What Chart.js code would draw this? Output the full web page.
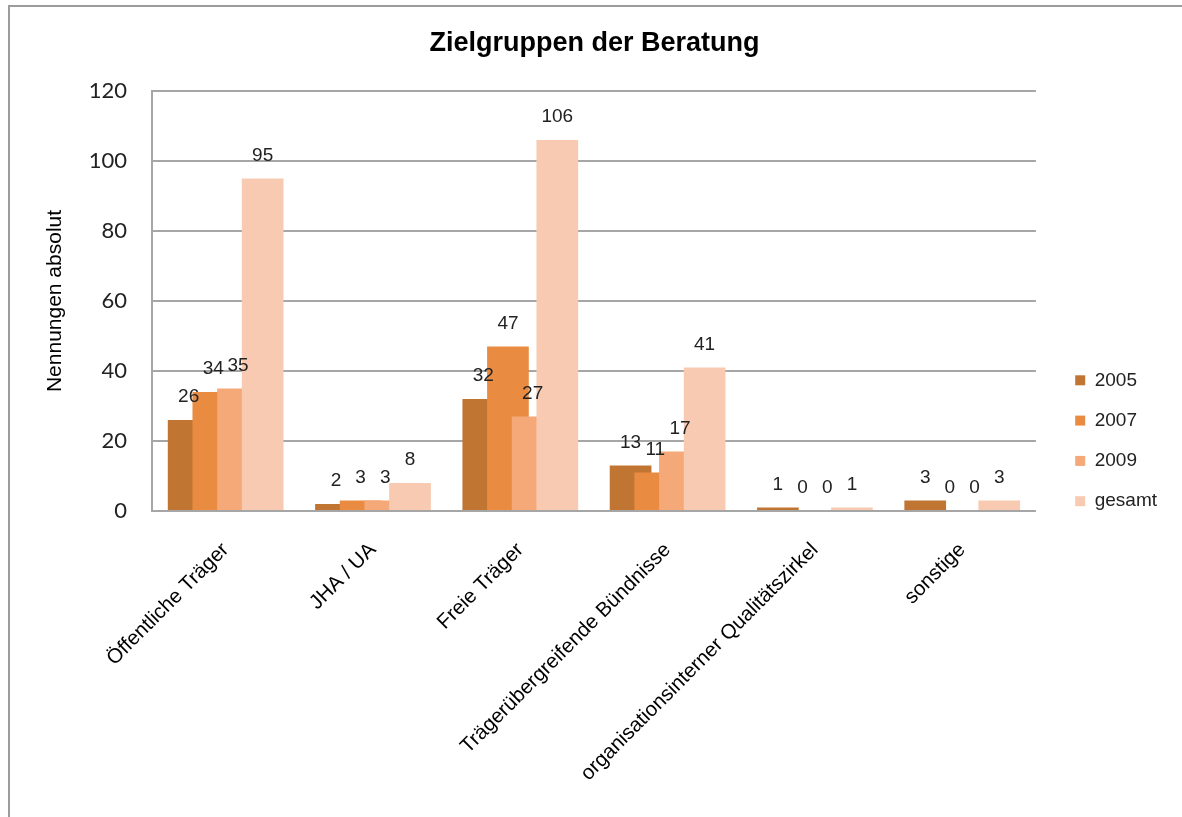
<!DOCTYPE html>
<html><head><meta charset="utf-8">
<script src="https://cdn.jsdelivr.net/npm/chart.js@4"></script>
<style>
html,body{margin:0;padding:0;background:#fff;}
#wrap{position:relative;width:1182px;height:817px;overflow:hidden;}
#frame{position:absolute;left:8px;top:5px;width:1300px;height:1000px;border-top:2px solid #9c9c9c;border-left:2px solid #9c9c9c;pointer-events:none;}
canvas{position:absolute;left:0;top:0;}
</style></head><body>
<div id="wrap"><canvas id="c" width="1182" height="817"></canvas><div id="frame"></div></div>
<script>
const categories = ['Öffentliche Träger','JHA / UA','Freie Träger','Trägerübergreifende Bündnisse','organisationsinterner Qualitätszirkel','sonstige'];
const seriesNames = ['2005','2007','2009','gesamt'];
const values2005 = [26,2,32,13,1,3];
const values2007 = [34,3,47,11,0,0];
const values2009 = [35,3,27,17,0,0];
const valuesGesamt = [95,8,106,41,1,3];
const yTicks = [0,20,40,60,80,100,120];
const seriesColors = ['#C07533','#E98C41','#F5A878','#F8CAB2'];

const seriesValues = [values2005, values2007, values2009, valuesGesamt];

const drawOrderAndLabels = {
  id:'drawOrderAndLabels',
  afterLayout(chart){
    const l = chart.legend;
    l.left += 18; l.right += 18;
    l.top = chart.chartArea.top;
    l.bottom = 532;
  },
  beforeDatasetsDraw(chart){
    const ctx = chart.ctx;
    const metas = chart.getSortedVisibleDatasetMetas().slice().sort((a,b)=>a.index-b.index);
    metas.forEach(m=>m.controller.draw());
    ctx.save();
    ctx.font = '19px "Liberation Sans", Arial, sans-serif';
    ctx.fillStyle = '#222';
    ctx.textAlign = 'center';
    ctx.textBaseline = 'middle';
    metas.forEach(m=>{
      m.data.forEach((el,i)=>{
        ctx.fillText(String(chart.data.datasets[m.index].data[i]), el.x, el.y - 23);
      });
    });
    ctx.restore();
    return false;
  }
};

new Chart(document.getElementById('c'), {
  type:'bar',
  data:{
    labels: categories,
    datasets: seriesNames.map((n,k)=>({
      label:n, data:seriesValues[k], backgroundColor:seriesColors[k], borderWidth:0,
      categoryPercentage:0.67, barPercentage:1.69
    }))
  },
  options:{
    responsive:false, animation:false, devicePixelRatio:1,
    layout:{padding:{left:40,right:33,top:0,bottom:0}},
    plugins:{
      title:{display:true,text:'Zielgruppen der Beratung',color:'#000',
        font:{family:'"Liberation Sans", Arial, sans-serif',size:27,weight:'bold'},
        padding:{top:27,bottom:31.6}},
      legend:{position:'right',align:'end',
        labels:{boxWidth:10,boxHeight:10,padding:21.3,color:'#222',
          font:{family:'"Liberation Sans", Arial, sans-serif',size:19}}},
      tooltip:{enabled:false}
    },
    scales:{
      x:{
        grid:{display:false}, border:{display:false},
        ticks:{minRotation:45,maxRotation:45,autoSkip:false,padding:19,color:'#000',
          font:{family:'"Liberation Sans", Arial, sans-serif',size:20.5}},
        afterFit(s){ s.height = 306; }
      },
      y:{
        min:0,max:120,
        afterBuildTicks(s){ s.ticks = yTicks.map(v=>({value:v})); },
        ticks:{padding:25,color:'#222',font:{family:'Lato, sans-serif',size:22}},
        grid:{color:'#a6a6a6',lineWidth:2,drawTicks:false},
        border:{color:'#a6a6a6',width:2},
        title:{display:true,text:'Nennungen absolut',color:'#000',
          font:{family:'"Liberation Sans", Arial, sans-serif',size:21},padding:{top:2.4,bottom:0}},
        afterFit(s){ s.width = 112; }
      }
    }
  },
  plugins:[drawOrderAndLabels]
});
</script>
</body></html>
